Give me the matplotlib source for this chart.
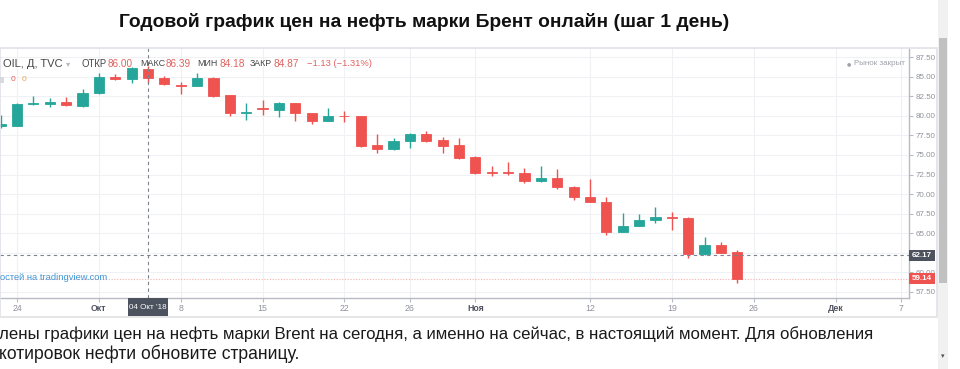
import matplotlib
matplotlib.use("Agg")
import matplotlib.pyplot as plt
import matplotlib.transforms as mtransforms
from matplotlib.patches import Rectangle
import pandas as pd

# ── Brent daily candles (TVC:UKOIL) ───────────────────────────────────────────
first_day, last_day = "2018-09-21", "2018-12-07"     # visible time axis (business days)

opens  = [78.71, 78.71, 81.52, 81.55, 81.78, 81.27, 82.93, 84.98, 84.72, 86.00,
          84.90, 83.98, 83.83, 84.85, 82.67, 80.40, 81.06, 80.75, 81.60, 80.33,
          79.38, 80.05, 80.00, 76.28, 75.72, 76.79, 77.68, 76.92, 76.24, 74.70,
          72.85, 72.85, 72.69, 71.70, 72.02, 70.94, 69.66, 69.02, 65.18, 65.91,
          66.68, 67.05, 66.97, 62.29, 63.48, 62.54]
highs  = [80.10, 81.60, 82.55, 82.30, 82.40, 83.44, 85.49, 85.35, 86.20, 86.39,
          85.10, 84.40, 85.50, 84.95, 82.70, 81.60, 82.00, 81.75, 81.65, 80.40,
          80.97, 80.63, 80.05, 77.64, 77.13, 77.75, 78.07, 77.34, 77.13, 74.90,
          73.59, 74.14, 73.33, 73.59, 73.20, 71.00, 71.92, 69.66, 67.63, 67.40,
          68.38, 67.66, 67.00, 64.46, 63.90, 62.84]
lows   = [78.50, 78.65, 81.39, 81.10, 81.30, 81.20, 82.85, 84.60, 84.21, 84.18,
          84.00, 82.77, 83.80, 82.40, 80.00, 79.47, 80.10, 79.90, 79.40, 78.96,
          79.30, 79.26, 75.98, 75.29, 75.60, 75.93, 76.70, 75.29, 74.50, 72.60,
          72.31, 72.43, 71.41, 71.54, 70.64, 69.24, 68.95, 64.76, 65.10, 65.85,
          66.25, 65.40, 61.85, 62.20, 62.40, 58.57]
closes = [78.96, 81.52, 81.65, 81.75, 81.40, 82.93, 84.98, 84.72, 86.12, 84.87,
          84.08, 83.80, 84.85, 82.55, 80.37, 80.55, 80.85, 81.69, 80.33, 79.35,
          80.00, 79.95, 76.15, 75.72, 76.79, 77.68, 76.83, 76.15, 74.57, 72.73,
          72.70, 72.70, 71.67, 72.02, 70.94, 69.66, 69.02, 65.18, 65.91, 66.68,
          67.02, 66.97, 62.29, 63.48, 62.50, 59.14]

tick_dates  = ["2018-09-24", "2018-10-01", "2018-10-08", "2018-10-15", "2018-10-22",
               "2018-10-26", "2018-11-01", "2018-11-12", "2018-11-19", "2018-11-26",
               "2018-12-03", "2018-12-07"]
tick_labels = ["24", "Окт", "8", "15", "22", "26", "Ноя", "12", "19", "26", "Дек", "7"]
month_labels = ["Окт", "Ноя", "Дек"]
price_ticks = [57.5, 60.0, 62.5, 65.0, 67.5, 70.0, 72.5, 75.0, 77.5, 80.0, 82.5, 85.0, 87.5]
hidden_price_ticks = [62.5]          # sits under the crosshair price label

cross_date, cross_label, cross_price = "2018-10-04", "04 Окт '18", 62.17
last_price = 59.14

TITLE = "Годовой график цен на нефть марки Брент онлайн (шаг 1 день)"
BODY_1 = ("лены графики цен на нефть марки Brent на сегодня, а именно на сейчас, "
          "в настоящий момент. Для обновления")
BODY_2 = "котировок нефти обновите страницу."

# ── Colours / fonts ───────────────────────────────────────────────────────────
GREEN = "#26a69a"
RED = "#ef5350"
GRID = "#eff1f5"
AXIS = "#b8bbc3"
TICK_TXT = "#8f929b"
DARK_BOX = "#4c525e"
WIDGET_FONT = ["Liberation Sans", "DejaVu Sans"]
PAGE_FONT = ["Liberation Sans", "DejaVu Sans"]

W, H = 960, 369
fig = plt.figure(figsize=(W / 100, H / 100), dpi=100, facecolor="white")


def fx(x):
    return x / W


def fy(y):
    return 1 - y / H


to_fit = []   # (text, target width in px)

# ── Chart pane ────────────────────────────────────────────────────────────────
PLOT_TOP, PLOT_BOT, PLOT_RIGHT = 48, 297.5, 909
ax = fig.add_axes([0, fy(PLOT_BOT), fx(PLOT_RIGHT), (PLOT_BOT - PLOT_TOP) / H])

days = pd.bdate_range(first_day, last_day)
xs = days.get_indexer(pd.to_datetime(days[:len(opens)]))

ax.set_xlim(-0.04, 55.49)
ax.set_ylim(56.76, 88.69)

colors = [GREEN if c >= o else RED for o, c in zip(opens, closes)]
bottoms = [min(o, c) for o, c in zip(opens, closes)]
heights = [abs(c - o) for o, c in zip(opens, closes)]
ax.vlines(xs, lows, highs, colors=colors, lw=1.0, zorder=3)
ax.bar(xs, heights, bottom=bottoms, width=0.62, color=colors,
       edgecolor=colors, linewidth=0.6, zorder=4)

# grid + axes
ax.set_xticks(days.get_indexer(pd.to_datetime(tick_dates)))
ax.set_xticklabels(tick_labels)
ax.set_yticks(price_ticks)
ax.set_yticklabels(["" if p in hidden_price_ticks else f"{p:.2f}" for p in price_ticks])
ax.yaxis.tick_right()
ax.grid(color=GRID, lw=0.8, zorder=0)
for side in ("left", "top"):
    ax.spines[side].set_visible(False)
for side in ("right", "bottom"):
    ax.spines[side].set_color(AXIS)
    ax.spines[side].set_linewidth(1.0)
ax.tick_params(axis="both", length=3, width=0.8, color=AXIS, labelcolor=TICK_TXT,
               labelsize=5.8, pad=1.8)
ax.tick_params(axis="x", labelsize=6.3, pad=1.5)
for lab in ax.get_xticklabels() + ax.get_yticklabels():
    lab.set_family(WIDGET_FONT)
for lab in ax.get_xticklabels():
    if lab.get_text() in month_labels:
        lab.set_fontweight("bold")
        lab.set_color("#50535e")

# crosshair + last price line
cross_x = days.get_loc(pd.Timestamp(cross_date))
ax.axvline(cross_x, color="#7d818c", lw=0.8, ls=(0, (3, 3)), zorder=5)
ax.axhline(cross_price, color="#7d818c", lw=0.8, ls=(0, (3, 3)), zorder=5)
ax.axhline(last_price, color=RED, lw=0.8, ls=(0, (1, 1.5)), alpha=0.45, zorder=2)

# price labels on the right scale
fig_y = mtransforms.blended_transform_factory(fig.transFigure, ax.transData)
box_h = 11 / ((PLOT_BOT - PLOT_TOP) / (88.69 - 56.76))
for price, face in [(cross_price, DARK_BOX), (last_price, RED)]:
    ax.add_patch(Rectangle((fx(PLOT_RIGHT), price - box_h / 2), fx(26), box_h,
                           transform=fig_y, facecolor=face, edgecolor="none",
                           clip_on=False, zorder=10))
    ax.text(fx(PLOT_RIGHT + 13), price, f"{price:.2f}", transform=fig_y,
            ha="center", va="center", color="white", fontsize=5.8,
            family=WIDGET_FONT, weight="bold", zorder=11, clip_on=False)

# date label under the crosshair
data_x = mtransforms.blended_transform_factory(ax.transData, fig.transFigure)
half_w = 20 / (PLOT_RIGHT / (55.49 + 0.04))
ax.add_patch(Rectangle((cross_x - half_w, fy(317)), 2 * half_w, 19.5 / H,
                       transform=data_x, facecolor=DARK_BOX, edgecolor="none",
                       clip_on=False, zorder=10))
ax.text(cross_x, fy(307.5), cross_label, transform=data_x, ha="center", va="center",
        color="white", fontsize=5.8, family=WIDGET_FONT, zorder=11)

# ── Widget frame, legend row, watermark ───────────────────────────────────────
fig.add_artist(Rectangle((0, fy(317)), fx(937), (317 - 47.7) / H,
                         transform=fig.transFigure, facecolor="none",
                         edgecolor="#dfe2e8", lw=1.2, zorder=1))
fig.add_artist(Rectangle((0, fy(318)), fx(937), 2 / H, transform=fig.transFigure,
                         facecolor="#e6e6e6", edgecolor="none", zorder=1))

header = [
    (3, "OIL, Д, TVC", "#454545", 60),
    (82, "ОТКР", "#454545", 25),
    (108, "86.00", "#e0625e", 25),
    (140, "МАКС", "#454545", 25),
    (166, "86.39", "#e0625e", 25),
    (197, "МИН", "#454545", 20),
    (219, "84.18", "#e0625e", 25),
    (250, "ЗАКР", "#454545", 22),
    (273, "84.87", "#e0625e", 25),
    (307, "−1.13 (−1.31%)", "#e0625e", 65),
]
for x0, txt, col, width in header:
    t = fig.text(fx(x0), fy(64), txt, ha="left", va="center", color=col,
                 fontsize=7, family=WIDGET_FONT, zorder=12)
    to_fit.append((t, width))
fig.text(fx(66), fy(64), "▾", ha="left", va="center", color="#b5b8c0",
         fontsize=6, family=["DejaVu Sans"], zorder=12)

fig.add_artist(Rectangle((0, fy(83)), fx(4), 6 / H, transform=fig.transFigure,
                         facecolor="#d7d9de", edgecolor="none", zorder=12))
fig.text(fx(11), fy(79.5), "0", ha="left", va="center", color="#e0625e",
         fontsize=6, family=WIDGET_FONT)
fig.text(fx(22), fy(79.5), "0", ha="left", va="center", color="#f0a050",
         fontsize=6, family=WIDGET_FONT)

fig.text(fx(849), fy(63.5), "●", ha="center", va="center", color="#a0a3ab",
         fontsize=3.5, family=["DejaVu Sans"])
t = fig.text(fx(854), fy(63.5), "Рынок закрыт", ha="left", va="center",
             color="#9fa2aa", fontsize=5.6, family=WIDGET_FONT)
to_fit.append((t, 51))

t = fig.text(fx(0), fy(277), "остей на tradingview.com", ha="left", va="center",
             color="#3f97d6", fontsize=6.5, family=WIDGET_FONT)
to_fit.append((t, 108))

# ── Page scrollbar ────────────────────────────────────────────────────────────
fig.add_artist(Rectangle((fx(938), 0), fx(10), 1, transform=fig.transFigure,
                         facecolor="#f1f1f1", edgecolor="none"))
fig.add_artist(Rectangle((fx(939), fy(283)), fx(8), (283 - 38) / H,
                         transform=fig.transFigure, facecolor="#c1c1c1",
                         edgecolor="none"))
fig.text(fx(943), fy(356), "▾", ha="center", va="center", color="#505050",
         fontsize=5, family=["DejaVu Sans"])

# ── Page text ─────────────────────────────────────────────────────────────────
t = fig.text(fx(424), fy(22), TITLE, ha="center", va="center", weight="bold",
             fontsize=12, color="#111111", family=PAGE_FONT)
to_fit.append((t, 607))
t = fig.text(fx(-1), fy(334), BODY_1, ha="left", va="center", fontsize=11,
             color="#1a1a1a", family=PAGE_FONT)
to_fit.append((t, 873))
t = fig.text(fx(-1), fy(354), BODY_2, ha="left", va="center", fontsize=11,
             color="#1a1a1a", family=PAGE_FONT)
to_fit.append((t, 299))

# scale fitted texts to the widths measured on the screenshot
fig.canvas.draw()
renderer = fig.canvas.get_renderer()
for txt, target in to_fit:
    w = txt.get_window_extent(renderer).width
    txt.set_fontsize(txt.get_fontsize() * target / w)

fig.savefig("out.png", dpi=100, facecolor="white")
